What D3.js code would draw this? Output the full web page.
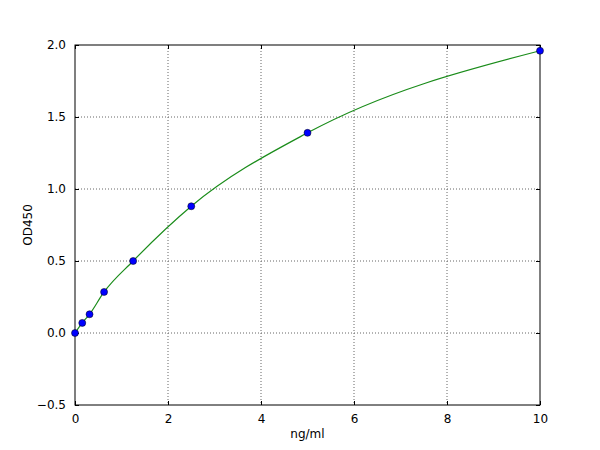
<!DOCTYPE html>
<html>
<head>
<meta charset="utf-8">
<script src="https://cdn.jsdelivr.net/npm/d3@7"></script>
<style>
  body { margin: 0; background: #fff; }
  svg { display: block; }
  svg text { font-family: "DejaVu Sans", sans-serif; }
  .grid line { stroke: #666; stroke-dasharray: 1,2; stroke-width: 1; }
  .tick text { font-size: 12px; fill: #000; }
</style>
</head>
<body>
<svg id="chart" width="600" height="450"></svg>
<script>
// standard curve readings
const concentrations = [0, 0.156, 0.3125, 0.625, 1.25, 2.5, 5, 10];
const odValues = [0.0, 0.07, 0.13, 0.285, 0.5, 0.88, 1.39, 1.96];
const xTicks = [0, 2, 4, 6, 8, 10];
const yTicks = [-0.5, 0.0, 0.5, 1.0, 1.5, 2.0];

const margin = { top: 45, right: 60, bottom: 45, left: 75 };
const width = 600 - margin.left - margin.right;
const height = 450 - margin.top - margin.bottom;

const svg = d3.select('#chart');
const g = svg.append('g').attr('transform', `translate(${margin.left},${margin.top})`);

const x = d3.scaleLinear().domain([0, 10]).range([0, width]);
const y = d3.scaleLinear().domain([-0.5, 2.0]).range([height, 0]);

const points = concentrations.map((c, i) => ({ c, od: odValues[i] }));

// grid
const $grid = g.append('g').attr('class', 'grid');
$grid.selectAll('.gx')
  .data(xTicks.slice(1, -1))
  .join('line')
  .attr('x1', d => x(d)).attr('x2', d => x(d))
  .attr('y1', 0).attr('y2', height);
$grid.selectAll('.gy')
  .data(yTicks.slice(1, -1))
  .join('line')
  .attr('y1', d => y(d)).attr('y2', d => y(d))
  .attr('x1', 0).attr('x2', width);

// axes, ticks pointing inward like the original
const fmtY = d3.format('.1f');
const minus = s => s.replace('-', '\u2212');
const axes = [
  g.append('g').attr('transform', `translate(0,${height})`)
    .call(d3.axisBottom(x).tickValues(xTicks).tickSizeInner(-4).tickSizeOuter(0).tickPadding(9).tickFormat(d3.format('d'))),
  g.append('g')
    .call(d3.axisTop(x).tickValues(xTicks).tickSizeInner(-4).tickSizeOuter(0).tickFormat('')),
  g.append('g')
    .call(d3.axisLeft(y).tickValues(yTicks).tickSizeInner(-4).tickSizeOuter(0).tickPadding(9).tickFormat(d => minus(fmtY(d)))),
  g.append('g').attr('transform', `translate(${width},0)`)
    .call(d3.axisRight(y).tickValues(yTicks).tickSizeInner(-4).tickSizeOuter(0).tickFormat(''))
];
axes.forEach(a => {
  a.attr('font-family', null).attr('font-size', null);
  a.select('.domain').remove();
});
g.selectAll('.tick line').attr('stroke', '#000');

// fitted curve
g.append('path')
  .datum(points)
  .attr('fill', 'none')
  .attr('stroke', '#1a8c1a')
  .attr('stroke-width', 1.2)
  .attr('d', d3.line().x(d => x(d.c)).y(d => y(d.od)).curve(d3.curveMonotoneX));

// frame
g.append('rect')
  .attr('width', width).attr('height', height)
  .attr('fill', 'none').attr('stroke', '#000').attr('stroke-width', 1);

// points
g.selectAll('circle')
  .data(points)
  .join('circle')
  .attr('cx', d => x(d.c))
  .attr('cy', d => y(d.od))
  .attr('r', 3.5)
  .attr('fill', '#0000ff')
  .attr('stroke', '#000')
  .attr('stroke-width', 0.5);

// labels
svg.append('text')
  .attr('x', margin.left + width / 2).attr('y', 438)
  .attr('text-anchor', 'middle').attr('font-size', 12)
  .text('ng/ml');
svg.append('text')
  .attr('transform', `translate(32,${margin.top + height / 2}) rotate(-90)`)
  .attr('text-anchor', 'middle').attr('font-size', 12)
  .text('OD450');
</script>
</body>
</html>
